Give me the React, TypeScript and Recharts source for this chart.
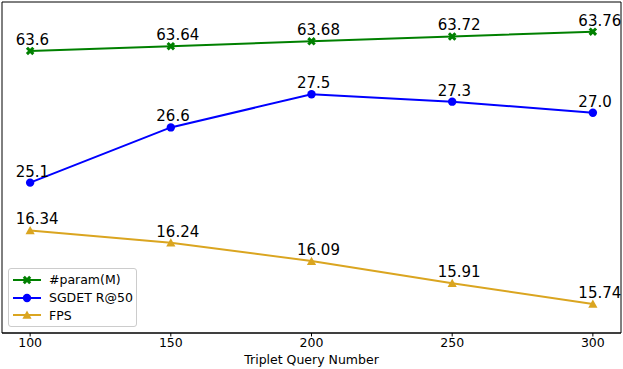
import React from 'react'
import { LineChart, Line, XAxis, YAxis, Legend, LabelList, ReferenceArea } from 'recharts'

const queryNumbers = [100, 150, 200, 250, 300]
const paramM = [63.6, 63.64, 63.68, 63.72, 63.76]
const sgdetR50 = [25.1, 26.6, 27.5, 27.3, 27.0]
const fps = [16.34, 16.24, 16.09, 15.91, 15.74]
const xTicks = [100, 150, 200, 250, 300]

const data = queryNumbers.map((q, i) => ({
    q,
    param: paramM[i],
    sgdet: sgdetR50[i],
    fps: fps[i],
}))

const FONT = '"DejaVu Sans", sans-serif'
const GREEN = '#008000'
const BLUE = '#0000ff'
const GOLD = '#daa520'

const X_DOMAIN: [number, number] = [90, 310]
const PARAM_DOMAIN: [number, number] = [61.262, 64.006]

const XMark = ({ cx, cy, color }: any) => (
    <path
        d={`M${cx - 3.2},${cy - 3.2}L${cx + 3.2},${cy + 3.2}M${cx - 3.2},${cy + 3.2}L${cx + 3.2},${cy - 3.2}`}
        stroke={color}
        strokeWidth={3}
        fill="none"
    />
)

const Circle = ({ cx, cy, color }: any) => <circle cx={cx} cy={cy} r={4.2} fill={color} />

const Tri = ({ cx, cy, color }: any) => (
    <path d={`M${cx},${cy - 4.4}L${cx + 4.6},${cy + 3.8}L${cx - 4.6},${cy + 3.8}Z`} fill={color} />
)

const valueLabel = (fmt: (v: number) => string) => (props: any) => {
    const { x, y, value } = props
    return (
        <text x={x - 14.5} y={y - 6} fontSize={15} fontFamily={FONT} fill="#000" textAnchor="start">
            {fmt(value)}
        </text>
    )
}

const series = [
    { name: '#param(M)', color: GREEN, Mark: XMark },
    { name: 'SGDET R@50', color: BLUE, Mark: Circle },
    { name: 'FPS', color: GOLD, Mark: Tri },
]

const LegendBox = () => (
    <div
        style={{
            width: 129,
            height: 59,
            boxSizing: 'border-box',
            border: '1px solid #cccccc',
            borderRadius: 3,
            background: 'rgba(255,255,255,0.8)',
            fontFamily: FONT,
            fontSize: 12.5,
            paddingTop: 2,
            whiteSpace: 'nowrap',
        }}
    >
        {series.map(s => (
            <div key={s.name} style={{ display: 'flex', alignItems: 'center', height: 17.8 }}>
                <svg width={40} height={14} style={{ flex: 'none' }}>
                    <line x1={4} x2={32} y1={7} y2={7} stroke={s.color} strokeWidth={2} />
                    <s.Mark cx={18} cy={7} color={s.color} />
                </svg>
                <span>{s.name}</span>
            </div>
        ))}
    </div>
)

export default function App() {
    return (
        <div style={{ position: 'absolute', left: 0, top: 0, background: '#fff' }}>
            <LineChart width={623} height={369} data={data} margin={{ top: 2, right: 2, left: 2, bottom: 0 }}>
                <XAxis
                    dataKey="q"
                    type="number"
                    domain={X_DOMAIN}
                    ticks={xTicks}
                    height={36}
                    tickSize={3.5}
                    tickMargin={2}
                    stroke="#000"
                    tick={{ fill: '#000', fontSize: 12.5, fontFamily: FONT }}
                    label={{ value: 'Triplet Query Number', position: 'insideBottom', offset: 5, fill: '#000', fontSize: 12.5, fontFamily: FONT }}
                />
                <YAxis yAxisId="g" hide domain={PARAM_DOMAIN} />
                <YAxis yAxisId="b" hide domain={[21.014, 30.008]} />
                <YAxis yAxisId="y" hide domain={[15.503, 18.205]} />
                <ReferenceArea
                    yAxisId="g"
                    x1={X_DOMAIN[0]}
                    x2={X_DOMAIN[1]}
                    y1={PARAM_DOMAIN[0]}
                    y2={PARAM_DOMAIN[1]}
                    fill="none"
                    fillOpacity={0}
                    stroke="#000"
                    strokeWidth={1}
                    strokeOpacity={1}
                    ifOverflow="visible"
                />
                <Legend
                    layout="horizontal"
                    verticalAlign="middle"
                    align="center"
                    wrapperStyle={{ left: 8, top: 268, width: 'auto', height: 'auto' }}
                    content={() => <LegendBox />}
                />
                <Line yAxisId="g" dataKey="param" stroke={GREEN} strokeWidth={2} isAnimationActive={false}
                    dot={(p: any) => <XMark key={p.index} cx={p.cx} cy={p.cy} color={GREEN} />}>
                    <LabelList dataKey="param" content={valueLabel(v => String(v))} />
                </Line>
                <Line yAxisId="b" dataKey="sgdet" stroke={BLUE} strokeWidth={2} isAnimationActive={false}
                    dot={(p: any) => <Circle key={p.index} cx={p.cx} cy={p.cy} color={BLUE} />}>
                    <LabelList dataKey="sgdet" content={valueLabel(v => v.toFixed(1))} />
                </Line>
                <Line yAxisId="y" dataKey="fps" stroke={GOLD} strokeWidth={2} isAnimationActive={false}
                    dot={(p: any) => <Tri key={p.index} cx={p.cx} cy={p.cy} color={GOLD} />}>
                    <LabelList dataKey="fps" content={valueLabel(v => String(v))} />
                </Line>
            </LineChart>
        </div>
    )
}
